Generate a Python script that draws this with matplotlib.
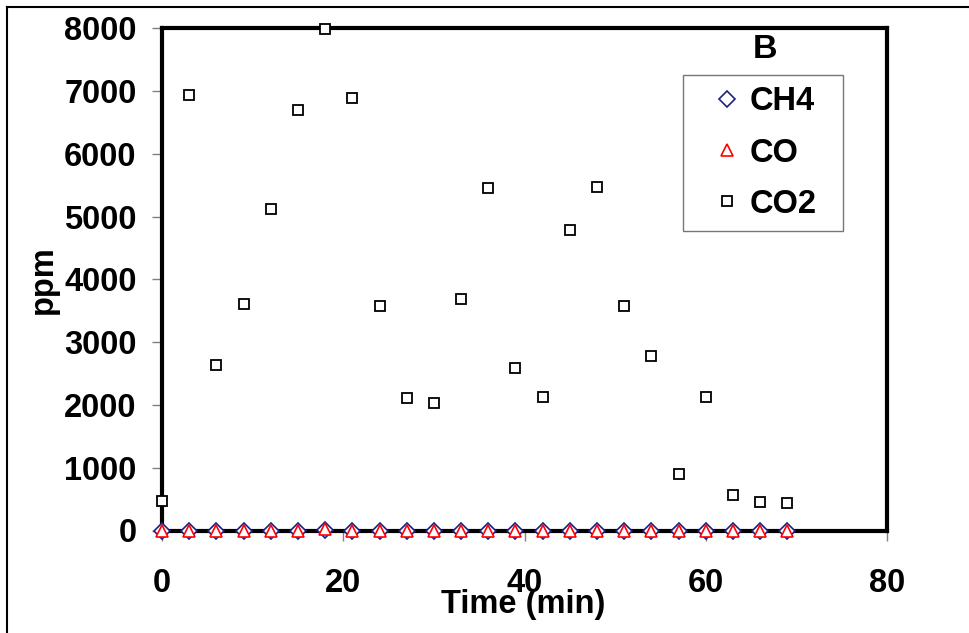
import matplotlib
matplotlib.use("Agg")
import matplotlib.pyplot as plt
from matplotlib.lines import Line2D

plt.rcParams['font.family'] = ['Liberation Sans', 'DejaVu Sans']
plt.rcParams['font.weight'] = 'bold'

time_min = [0, 3, 6, 9, 12, 15, 18, 21, 24, 27, 30, 33, 36, 39, 42, 45, 48, 51, 54, 57, 60, 63, 66, 69]
ch4 = [0, 0, 0, 0, 0, 0, 15, 0, 0, 0, 0, 0, 0, 0, 0, 0, 0, 0, 0, 0, 0, 0, 0, 0]
co = [0, 0, 0, 0, 0, 0, 20, 0, 0, 0, 0, 0, 0, 0, 0, 0, 0, 0, 0, 0, 0, 0, 0, 0]
co2 = [475, 6934, 2635, 3608, 5128, 6696, 7982, 6893, 3570, 2108, 2028, 3687,
       5462, 2587, 2134, 4787, 5474, 3570, 2783, 901, 2124, 566, 450, 434]
x_ticks = [0, 20, 40, 60, 80]
y_ticks = [0, 1000, 2000, 3000, 4000, 5000, 6000, 7000, 8000]

W, H = 969, 633
fig = plt.figure(figsize=(W / 100, H / 100), dpi=100)
ax = fig.add_axes([162 / W, 1 - 530.5 / H, 725 / W, 502.2 / H])

ax.plot(time_min, co2, linestyle='none', marker='s', ms=7.5, mfc='white', mec='black',
        mew=1.3, clip_on=False, zorder=4, label='CO2')
ax.plot(time_min, ch4, linestyle='none', marker='D', ms=8.5, mfc='white', mec='#1f1f80',
        mew=1.2, clip_on=False, zorder=5, label='CH4')
ax.plot(time_min, co, linestyle='none', marker='^', ms=8, mfc='white', mec='#ff0000',
        mew=1.2, clip_on=False, zorder=6, label='CO')

ax.set_xlim(0, 80)
ax.set_ylim(0, 8000)
ax.set_xticks(x_ticks)
ax.set_yticks(y_ticks)
for s in ax.spines.values():
    s.set_linewidth(3)
    s.set_color('black')
ax.tick_params(direction='out', length=7.2, width=1, color='#808080', labelsize=23.5)
ax.tick_params(axis='x', pad=20)
ax.tick_params(axis='y', pad=11)
for lab in ax.get_xticklabels() + ax.get_yticklabels():
    lab.set_fontweight('bold')

ax.set_xlabel('Time (min)', fontsize=23.5, fontweight='bold', ha='center', va='center')
ax.xaxis.set_label_coords(0.498, -0.148)
ax.set_ylabel('ppm', fontsize=23.5, fontweight='bold', ha='center', va='center')
ax.yaxis.set_label_coords(-0.164, 0.5)

ax.text(0.832, 0.957, 'B', transform=ax.transAxes, fontsize=24.5, fontweight='bold',
        ha='center', va='center')

handles, labels = ax.get_legend_handles_labels()
order = [1, 2, 0]
leg = ax.legend([handles[i] for i in order], [labels[i] for i in order],
                loc='upper left', bbox_to_anchor=(683 / W, 1 - 75 / H - 0.1, 160 / W, 0.1),
                bbox_transform=fig.transFigure, mode='expand',
                fontsize=23.5, frameon=True, fancybox=False, shadow=False,
                borderpad=0.35, labelspacing=0.62, handlelength=2.0, handletextpad=-0.3,
                borderaxespad=0)
leg.get_frame().set_edgecolor('#555555')
leg.get_frame().set_linewidth(1)
for t in leg.get_texts():
    t.set_fontweight('bold')

fig.add_artist(Line2D([7 / W, 7 / W], [0, 1 - 7 / H], transform=fig.transFigure,
                      color='black', lw=1.5))
fig.add_artist(Line2D([7 / W, 1], [1 - 7 / H, 1 - 7 / H], transform=fig.transFigure,
                      color='black', lw=1.5))

fig.savefig('out.png', dpi=100)
